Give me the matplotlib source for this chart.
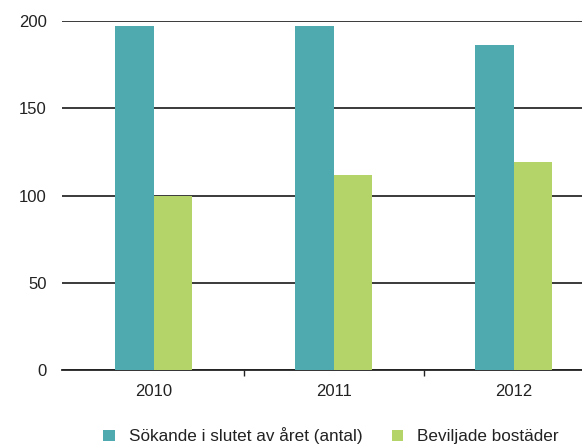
import numpy as np
import matplotlib.pyplot as plt

years = ['2010', '2011', '2012']
sokande = [197, 197, 186]
beviljade = [100, 112, 119]
series_names = ['Sökande i slutet av året (antal)', 'Beviljade bostäder']

teal = '#4eaaae'
green = '#b4d368'

plt.rcParams['font.family'] = ['Liberation Sans', 'DejaVu Sans']

fig = plt.figure(figsize=(5.82, 4.48), dpi=100)
ax = fig.add_axes([62 / 582, 1 - 370 / 448, 1 - 62 / 582, 349 / 448])

x = np.arange(len(years))
w = 0.214
ax.bar(x - w / 2, sokande, w, color=teal, label=series_names[0], zorder=3)
ax.bar(x + w / 2, beviljade, w, color=green, label=series_names[1], zorder=3)

ax.set_ylim(0, 200)
ax.set_xlim(-0.51, 2.38)
ax.set_yticks([0, 50, 100, 150, 200])
ax.yaxis.grid(True, color='#2b2b2b', linewidth=1.3, zorder=1)
ax.tick_params(axis='y', length=0, pad=11, labelsize=12, colors='#222222')

# category labels without ticks, small ticks between categories
ax.set_xticks(x)
ax.set_xticklabels(years, fontsize=12, color='#222222')
ax.tick_params(axis='x', which='major', length=0, pad=10)
ax.set_xticks([0.5, 1.5], minor=True)
ax.tick_params(axis='x', which='minor', length=4, width=1, color='#222222', direction='out')

for s in ['left', 'right', 'top']:
    ax.spines[s].set_visible(False)
ax.spines['bottom'].set_color('#222222')
ax.spines['bottom'].set_linewidth(1.3)

fig.legend(loc='center', bbox_to_anchor=(331 / 582, 1 - 436 / 448), ncol=2, frameon=False,
           fontsize=12.3, handlelength=0.7, handleheight=0.7, columnspacing=1.7,
           handletextpad=0.8, labelcolor='#222222')

fig.savefig('out.png', dpi=100)
